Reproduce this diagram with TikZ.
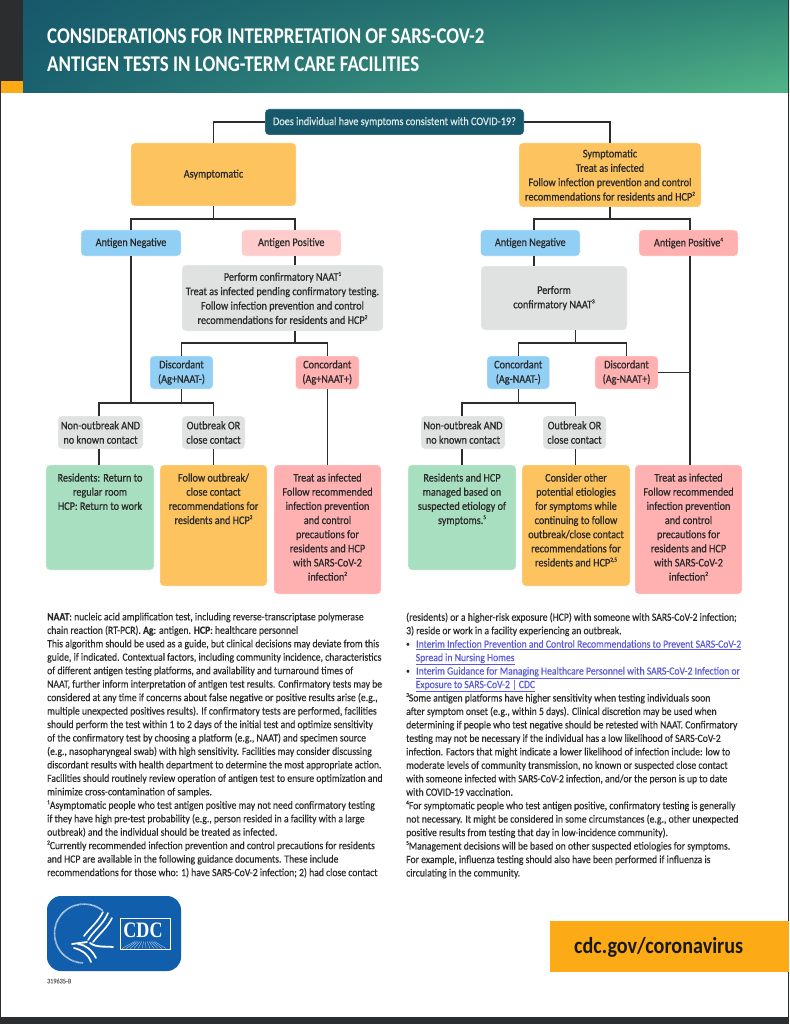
\documentclass[tikz,border=0pt]{standalone}
\usepackage{fontspec}
\setmainfont{Carlito}[FakeStretch=0.88,FakeBold=0.25]
\newfontfamily\boxf{Carlito}[FakeStretch=0.88,FakeBold=0.6]
\newfontfamily\titlef{Carlito}[FakeStretch=0.84]
\newfontfamily\urlf{Carlito}[FakeStretch=0.88]
\newfontfamily\cdcf{Liberation Serif}[FakeStretch=0.82]
\usetikzlibrary{calc}
\definecolor{teal1}{HTML}{17596B}
\definecolor{bantl}{HTML}{17596B}
\definecolor{bantr}{HTML}{2F8574}
\definecolor{banbl}{HTML}{1A6270}
\definecolor{banbr}{HTML}{52B587}
\definecolor{frame}{HTML}{2B2D2E}
\definecolor{amber}{HTML}{FCC35E}
\definecolor{skyb}{HTML}{92CFF5}
\definecolor{pinkl}{HTML}{FFCCCC}
\definecolor{pinkd}{HTML}{FFB0B0}
\definecolor{grayb}{HTML}{E0E1E1}
\definecolor{mint}{HTML}{A8DFC0}
\definecolor{orng}{HTML}{FCAB17}
\definecolor{cdcblue}{HTML}{115EAD}
\definecolor{linkc}{HTML}{5A5AD8}
\definecolor{ink}{HTML}{2A2A2A}
\newcommand{\sq}[1]{\raisebox{0.42em}{\fontsize{6}{6}\selectfont #1}}
\newcommand{\lnk}[1]{\textcolor{linkc}{\underline{#1}}}
\newcommand{\bul}{\raisebox{0.1em}{\fontsize{8}{8}\selectfont •}}
\newcommand{\boxn}[7]{% name x1 y1 x2 y2 fill text (centred)
  \pgfmathsetmacro{\bw}{#4-#2}\pgfmathsetmacro{\bh}{#5-#3}
  \pgfmathsetmacro{\bx}{(#4+#2)/2}\pgfmathsetmacro{\by}{(#5+#3)/2}
  \node[flowbox,fill=#6,minimum width=\bw pt,minimum height=\bh pt] (#1) at (\bx,\by) {#7};}
\newcommand{\boxt}[7]{% name x1 y1 x2 y2 fill text (top aligned)
  \pgfmathsetmacro{\bw}{#4-#2}\pgfmathsetmacro{\bh}{#5-#3}
  \pgfmathsetmacro{\bx}{(#4+#2)/2}\pgfmathsetmacro{\by}{(#5+#3)/2}
  \node[flowbox,fill=#6,minimum width=\bw pt,minimum height=\bh pt] (#1) at (\bx,\by)
    {\parbox[c][\bh pt][t]{\bw pt}{\fontsize{11.6}{14.15}\selectfont\centering\vspace*{8.5pt}#7}};}
\tikzset{
  flowbox/.style={rounded corners=3.5pt,inner sep=0pt,align=center,text=ink,
    font=\boxf\fontsize{11.6}{14.4}\selectfont,draw=white,line width=0.4pt},
  conn/.style={draw=frame,line width=1.4pt},
  body/.style={anchor=north west,inner sep=0pt,align=left,text=ink,
    font=\fontsize{11}{13.46}\selectfont}
}
\begin{document}
\begin{tikzpicture}[x=1pt,y=-1pt]
\useasboundingbox (0,0) rectangle (789,1024);
% page frame
\fill[white] (0,0) rectangle (789,1024);
% banner
\fill[frame] (0,0) rectangle (23,81);
\fill[orng] (1.3,81) rectangle (23,93);
\begin{scope}
\clip (23,0) rectangle (789,93);
\foreach \i in {0,...,95}{
  \pgfmathsetmacro{\pc}{\i/95*100}
  \pgfmathsetmacro{\xa}{23+\i*8}
  \pgfmathsetmacro{\xb}{\xa+8.4}
  \colorlet{stript}{bantr!\pc!bantl}
  \colorlet{stripb}{banbr!\pc!banbl}
  \shade[top color=stript,bottom color=stripb] (\xa,0) rectangle (\xb,93);
}
\end{scope}
\fill[frame] (0,1017) rectangle (789,1024);
\fill[frame] (0,0) rectangle (1.3,1024);
\fill[frame] (787.8,0) rectangle (789,1024);
\node[anchor=north west,inner sep=0pt,text=white,align=left,
  font=\titlef\fontsize{22.5}{28}\selectfont\bfseries] (title) at (47,28.5)
  {CONSIDERATIONS FOR INTERPRETATION OF SARS-COV-2\\ANTIGEN TESTS IN LONG-TERM CARE FACILITIES};
% boxes
\boxn{q}{265}{109}{524}{135}{teal1}{\textcolor{white!85!teal1}{Does individual have symptoms consistent with COVID-19?}}
\boxn{asym}{131}{143}{296}{206}{amber}{Asymptomatic}
\boxn{sym}{519}{143}{701}{207}{amber}{Symptomatic\\Treat as infected\\Follow infection prevention and control\\recommendations for residents and HCP\sq{2}}
\boxn{negL}{81}{230}{181}{256}{skyb}{Antigen Negative}
\boxn{posL}{241.5}{230}{341}{256}{pinkl}{Antigen Positive}
\boxn{negR}{480.5}{230}{580}{256}{skyb}{Antigen Negative}
\boxn{posR}{639}{230}{738}{256}{pinkd}{Antigen Positive\sq{4}}
\boxn{grayL}{182}{265}{383}{331}{grayb}{Perform confirmatory NAAT\sq{1}\\Treat as infected pending confirmatory testing.\\Follow infection prevention and control\\recommendations for residents and HCP\sq{2}}
\boxn{grayR}{481}{266}{627}{330}{grayb}{Perform\\confirmatory NAAT\sq{3}}
\boxn{discL}{150}{356}{213}{389}{skyb}{Discordant\\(Ag+NAAT-)}
\boxn{concL}{295.5}{356}{359}{389}{pinkd}{Concordant\\(Ag+NAAT+)}
\boxn{concR}{487}{356}{549.5}{389}{skyb}{Concordant\\(Ag-NAAT-)}
\boxn{discR}{595}{356}{658}{389}{pinkd}{Discordant\\(Ag-NAAT+)}
\boxn{nonL}{58}{416}{143}{449}{grayb}{Non-outbreak AND\\no known contact}
\boxn{outL}{182}{416}{245}{449}{grayb}{Outbreak OR\\close contact}
\boxn{nonR}{421}{416}{505}{449}{grayb}{Non-outbreak AND\\no known contact}
\boxn{outR}{543}{416}{606}{449}{grayb}{Outbreak OR\\close contact}
\boxt{greenL}{46}{465}{154}{570}{mint}{Residents: Return to\\regular room\\HCP: Return to work}
\boxt{orL}{160}{465}{267}{586}{amber}{Follow outbreak/\\close contact\\recommendations for\\residents and HCP\sq{2}}
\boxt{redL}{274}{465}{381}{594}{pinkd}{Treat as infected\\Follow recommended\\infection prevention\\and control\\precautions for\\residents and HCP\\with SARS-CoV-2\\infection\sq{2}}
\boxt{greenR}{408}{465}{516}{570}{mint}{Residents and HCP\\managed based on\\suspected etiology of\\symptoms.\sq{5}}
\boxt{orR}{522}{465}{630}{586}{amber}{Consider other\\potential etiologies\\for symptoms while\\continuing to follow\\outbreak/close contact\\recommendations for\\residents and HCP\sq{2,5}}
\boxt{redR}{635}{465}{742}{594}{pinkd}{Treat as infected\\Follow recommended\\infection prevention\\and control\\precautions for\\residents and HCP\\with SARS-CoV-2\\infection\sq{2}}
% junctions
\coordinate (ja) at (213.5,219);
\coordinate (jap) at (295,219);
\coordinate (jg) at (295,343);
\coordinate (jnl) at (131,403);
\coordinate (jd) at (181.5,403);
\coordinate (jn1) at (99,403);
\coordinate (jo1) at (213.5,403);
\coordinate (js) at (610,219);
\coordinate (jsn) at (534,219);
\coordinate (jsp) at (690,219);
\coordinate (jr) at (575.5,343);
\coordinate (jc) at (518.5,403);
\coordinate (jn2) at (462,403);
\coordinate (jo2) at (575.5,403);
\coordinate (jdr) at (690,372.5);
% connectors
\draw[conn] (q.west) -| (asym.north);
\draw[conn] (q.east) -| (sym.north);
\draw[conn] (asym.south) -- (ja);
\draw[conn] (negL.north) |- (jap) -- (jap |- posL.north);
\draw[conn] (negL.south) -- (jnl);
\draw[conn] (jap |- posL.south) -- (jap |- grayL.north);
\draw[conn] (jg |- grayL.south) -- (jg);
\draw[conn] (discL.north) |- (jg) -| (concL.north);
\draw[conn] (discL.south -| jd) -- (jd);
\draw[conn] (jn1 |- nonL.north) |- (jo1) -- (jo1 |- outL.north);
\draw[conn] (jn1 |- nonL.south) -- (jn1 |- greenL.north);
\draw[conn] (jo1 |- outL.south) -- (jo1 |- orL.north);
\draw[conn] (concL.south) -- (concL.south |- redL.north);
\draw[conn] (sym.south -| js) -- (js);
\draw[conn] (jsn |- negR.north) |- (jsp) -- (jsp |- posR.north);
\draw[conn] (jsn |- negR.south) -- (jsn |- grayR.north);
\draw[conn] (jsp |- posR.south) -- (jsp |- redR.north);
\draw[conn] (jr |- grayR.south) -- (jr);
\draw[conn] (concR.north) |- (jr) -| (discR.north);
\draw[conn] (discR.east) -- (discR.east -| jdr);
\draw[conn] (jc |- concR.south) -- (jc);
\draw[conn] (jn2 |- nonR.north) |- (jo2) -- (jo2 |- outR.north);
\draw[conn] (jn2 |- nonR.south) -- (jn2 |- greenR.north);
\draw[conn] (jo2 |- outR.south) -- (jo2 |- orR.north);
% footnotes
\node[body] (notesL) at (47,612.5) {%
\textbf{NAAT}: nucleic acid amplification test, including reverse-transcriptase polymerase\\
chain reaction (RT-PCR). \textbf{Ag}: antigen. \textbf{HCP}: healthcare personnel\\
This algorithm should be used as a guide, but clinical decisions may deviate from this\\
guide, if indicated. Contextual factors, including community incidence, characteristics\\
of different antigen testing platforms, and availability and turnaround times of\\
NAAT, further inform interpretation of antigen test results. Confirmatory tests may be\\
considered at any time if concerns about false negative or positive results arise (e.g.,\\
multiple unexpected positives results). If confirmatory tests are performed, facilities\\
should perform the test within 1 to 2 days of the initial test and optimize sensitivity\\
of the confirmatory test by choosing a platform (e.g., NAAT) and specimen source\\
(e.g., nasopharyngeal swab) with high sensitivity. Facilities may consider discussing\\
discordant results with health department to determine the most appropriate action.\\
Facilities should routinely review operation of antigen test to ensure optimization and\\
minimize cross-contamination of samples.\\
\sq{1}Asymptomatic people who test antigen positive may not need confirmatory testing\\
if they have high pre-test probability (e.g., person resided in a facility with a large\\
outbreak) and the individual should be treated as infected.\\
\sq{2}Currently recommended infection prevention and control precautions for residents\\
and HCP are available in the following guidance documents.  These include\\
recommendations for those who: 1) have SARS-CoV-2 infection; 2) had close contact};
\node[body] (notesR) at (406,612.5) {%
(residents) or a higher-risk exposure (HCP) with someone with SARS-CoV-2 infection;\\
3) reside or work in a facility experiencing an outbreak.\\
\bul\hspace{6.5pt}\lnk{Interim Infection Prevention and Control Recommendations to Prevent SARS-CoV-2}\\
\hspace*{9.5pt}\lnk{Spread in Nursing Homes}\\
\bul\hspace{6.5pt}\lnk{Interim Guidance for Managing Healthcare Personnel with SARS-CoV-2 Infection or}\\
\hspace*{9.5pt}\lnk{Exposure to SARS-CoV-2 | CDC}\\
\sq{3}Some antigen platforms have higher sensitivity when testing individuals soon\\
after symptom onset (e.g., within 5 days). Clinical discretion may be used when\\
determining if people who test negative should be retested with NAAT. Confirmatory\\
testing may not be necessary if the individual has a low likelihood of SARS-CoV-2\\
infection. Factors that might indicate a lower likelihood of infection include: low to\\
moderate levels of community transmission, no known or suspected close contact\\
with someone infected with SARS-CoV-2 infection, and/or the person is up to date\\
with COVID-19 vaccination.\\
\sq{4}For symptomatic people who test antigen positive, confirmatory testing is generally\\
not necessary. It might be considered in some circumstances (e.g., other unexpected\\
positive results from testing that day in low-incidence community).\\
\sq{5}Management decisions will be based on other suspected etiologies for symptoms.\\
For example, influenza testing should also have been performed if influenza is\\
circulating in the community.};
% logo
\fill[cdcblue,rounded corners=14pt] (47,896) rectangle (181,971);
\draw[white!75!cdcblue,line width=1.7pt,dash pattern=on 0.7pt off 0.5pt] (84,933.5) ++(-51:29.5) arc[start angle=-51,end angle=-268,radius=29.5];
\draw[white,line width=0.6pt] (120,918) rectangle (170,949);
\node[text=white,inner sep=0pt,font=\cdcf\fontsize{22}{22}\selectfont\bfseries] (cdc) at (143,930.5) {CDC};
\foreach \dx in {-23,-19,...,23}{
  \draw[white!80!cdcblue,line width=0.3pt] (145+\dx*0.45,941.5) -- (145+\dx,948.5);
}
% eagle
\draw[white,line width=1.6pt,line cap=round] (103,912) .. controls (98,922) and (90,928) .. (84,936);
\draw[white,line width=1.6pt,line cap=round] (108,913) .. controls (103,925) and (94,930) .. (88,940);
\draw[white,line width=1.6pt,line cap=round] (112,918) .. controls (107,928) and (100,933) .. (93,942);
\draw[white,line width=1.8pt,line cap=round] (72,944) -- (87,942);
\draw[white,line width=1.7pt,line cap=round] (74,948) .. controls (82,950) and (88,954) .. (91,962);
\draw[white,line width=1.7pt,line cap=round] (78,944) .. controls (86,945) and (92,950) .. (96,958);
\draw[white,line width=1.8pt,line cap=round] (90,943) .. controls (97,948) and (104,946) .. (113,947);
% footer
\node[anchor=west,inner sep=0pt,text=black!60,font=\fontsize{7}{8}\selectfont] (code) at (47,981) {319635-B};
\fill[orng] (550,921) rectangle (789,972);
\node[anchor=west,inner sep=0pt,text=black!90,font=\urlf\fontsize{22.9}{26}\selectfont\bfseries] (url) at (574,947) {cdc.gov/coronavirus};
\end{tikzpicture}
\end{document}
